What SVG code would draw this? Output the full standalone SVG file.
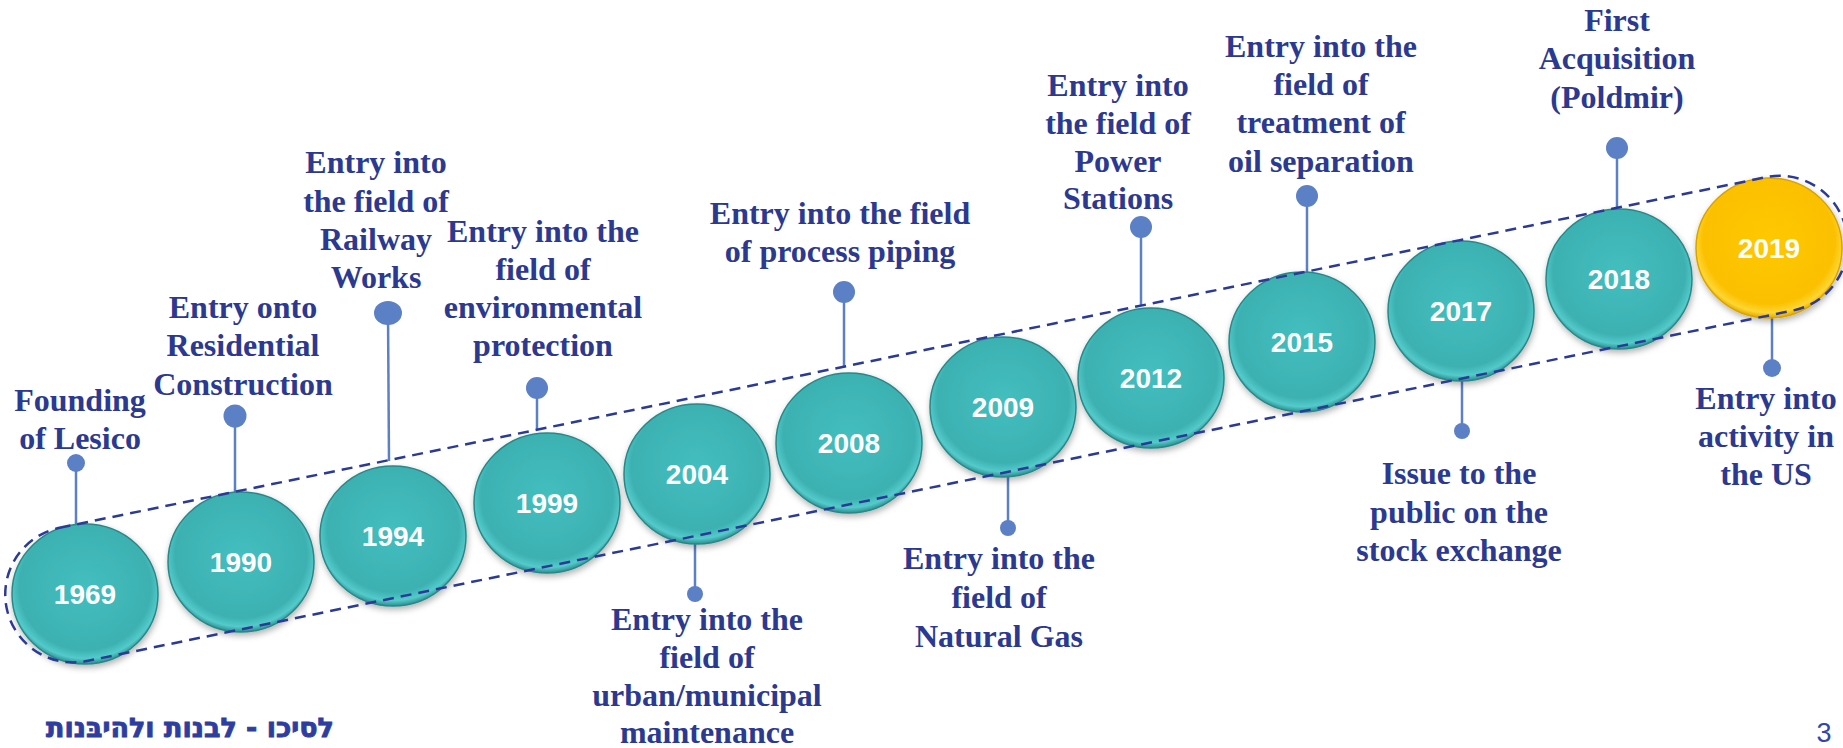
<svg xmlns="http://www.w3.org/2000/svg" width="1843" height="748" viewBox="0 0 1843 748">
<style>
.lbl{font-family:"Liberation Serif","Times New Roman",serif;font-weight:bold;font-size:32px;fill:#2B3990;text-anchor:middle}
.yr{font-family:"Liberation Sans",Arial,sans-serif;font-weight:bold;font-size:28px;fill:#ffffff;text-anchor:middle}
.stem{stroke:#5B80C6;stroke-width:2.5;fill:none}
.dot{fill:#5B80C6}
.teal{fill:url(#gTeal);stroke:#2A8788;stroke-width:1.5;filter:url(#sh)}
.gold{fill:url(#gGold);stroke:#D9A300;stroke-width:1.5;filter:url(#sh)}
.cap{fill:none;stroke:#2B3A96;stroke-width:2.5;stroke-dasharray:11 7}
</style>
<defs>
<radialGradient id="gTeal" cx="50%" cy="45%" r="55%">
<stop offset="0" stop-color="#44BEBF"/>
<stop offset="0.82" stop-color="#3CB1B2"/>
<stop offset="0.93" stop-color="#54CACB"/>
<stop offset="1" stop-color="#2C8F90"/>
</radialGradient>
<radialGradient id="gGold" cx="50%" cy="45%" r="55%">
<stop offset="0" stop-color="#FFC800"/>
<stop offset="0.82" stop-color="#FBC000"/>
<stop offset="0.93" stop-color="#FFD633"/>
<stop offset="1" stop-color="#E0A800"/>
</radialGradient>
<filter id="sh" x="-20%" y="-20%" width="140%" height="140%">
<feDropShadow dx="1" dy="3" stdDeviation="3" flood-color="#000" flood-opacity="0.3"/>
</filter>
</defs>
<rect width="1843" height="748" fill="#ffffff"/>

<g id="connectors">
<line class="stem" x1="76" y1="463" x2="76" y2="525"/>
<line class="stem" x1="235" y1="416" x2="235" y2="492"/>
<line class="stem" x1="388" y1="313" x2="389" y2="461"/>
<line class="stem" x1="537" y1="388" x2="537" y2="430"/>
<line class="stem" x1="844" y1="292" x2="844" y2="367"/>
<line class="stem" x1="1141" y1="227" x2="1141" y2="306"/>
<line class="stem" x1="1307" y1="196" x2="1307" y2="272"/>
<line class="stem" x1="1617" y1="148" x2="1617" y2="208"/>
<line class="stem" x1="695" y1="536" x2="695" y2="594"/>
<line class="stem" x1="1008" y1="471" x2="1008" y2="528"/>
<line class="stem" x1="1462" y1="378" x2="1462" y2="431"/>
<line class="stem" x1="1772" y1="314" x2="1772" y2="368"/>
<circle class="dot" cx="76" cy="463" r="9"/>
<circle class="dot" cx="235" cy="416" r="11.5"/>
<ellipse class="dot" cx="388" cy="313" rx="14" ry="12"/>
<circle class="dot" cx="537" cy="388" r="11"/>
<circle class="dot" cx="844" cy="292" r="11"/>
<circle class="dot" cx="1141" cy="227" r="11"/>
<circle class="dot" cx="1307" cy="196" r="11"/>
<circle class="dot" cx="1617" cy="148" r="11"/>
<circle class="dot" cx="695" cy="594" r="8"/>
<circle class="dot" cx="1008" cy="528" r="8"/>
<circle class="dot" cx="1462" cy="431" r="8"/>
<circle class="dot" cx="1772" cy="368" r="9"/>
</g>

<g id="n1969"><ellipse class="teal" cx="85" cy="594" rx="73" ry="70"/><text class="yr" x="85" y="604">1969</text>
<text class="lbl" x="80"><tspan x="80" y="411">Founding</tspan><tspan x="80" y="449">of Lesico</tspan></text></g>
<g id="n1990"><ellipse class="teal" cx="241" cy="562" rx="73" ry="70"/><text class="yr" x="241" y="572">1990</text>
<text class="lbl"><tspan x="243" y="318">Entry onto</tspan><tspan x="243" y="356">Residential</tspan><tspan x="243" y="395">Construction</tspan></text></g>
<g id="n1994"><ellipse class="teal" cx="393" cy="536" rx="73" ry="70"/><text class="yr" x="393" y="546">1994</text>
<text class="lbl"><tspan x="376" y="173">Entry into</tspan><tspan x="376" y="212">the field of</tspan><tspan x="376" y="250">Railway</tspan><tspan x="376" y="288">Works</tspan></text></g>
<g id="n1999"><ellipse class="teal" cx="547" cy="503" rx="73" ry="70"/><text class="yr" x="547" y="513">1999</text>
<text class="lbl"><tspan x="543" y="242">Entry into the</tspan><tspan x="543" y="280">field of</tspan><tspan x="543" y="318">environmental</tspan><tspan x="543" y="356">protection</tspan></text></g>
<g id="n2004"><ellipse class="teal" cx="697" cy="474" rx="73" ry="70"/><text class="yr" x="697" y="484">2004</text>
<text class="lbl"><tspan x="707" y="630">Entry into the</tspan><tspan x="707" y="668">field of</tspan><tspan x="707" y="706">urban/municipal</tspan><tspan x="707" y="743">maintenance</tspan></text></g>
<g id="n2008"><ellipse class="teal" cx="849" cy="443" rx="73" ry="70"/><text class="yr" x="849" y="453">2008</text>
<text class="lbl"><tspan x="840" y="224">Entry into the field</tspan><tspan x="840" y="262">of process piping</tspan></text></g>
<g id="n2009"><ellipse class="teal" cx="1003" cy="407" rx="73" ry="70"/><text class="yr" x="1003" y="417">2009</text>
<text class="lbl"><tspan x="999" y="569">Entry into the</tspan><tspan x="999" y="608">field of</tspan><tspan x="999" y="647">Natural Gas</tspan></text></g>
<g id="n2012"><ellipse class="teal" cx="1151" cy="378" rx="73" ry="70"/><text class="yr" x="1151" y="388">2012</text>
<text class="lbl"><tspan x="1118" y="96">Entry into</tspan><tspan x="1118" y="134">the field of</tspan><tspan x="1118" y="172">Power</tspan><tspan x="1118" y="209">Stations</tspan></text></g>
<g id="n2015"><ellipse class="teal" cx="1302" cy="342" rx="73" ry="70"/><text class="yr" x="1302" y="352">2015</text>
<text class="lbl"><tspan x="1321" y="57">Entry into the</tspan><tspan x="1321" y="95">field of</tspan><tspan x="1321" y="133">treatment of</tspan><tspan x="1321" y="172">oil separation</tspan></text></g>
<g id="n2017"><ellipse class="teal" cx="1461" cy="311" rx="73" ry="70"/><text class="yr" x="1461" y="321">2017</text>
<text class="lbl"><tspan x="1459" y="484">Issue to the</tspan><tspan x="1459" y="523">public on the</tspan><tspan x="1459" y="561">stock exchange</tspan></text></g>
<g id="n2018"><ellipse class="teal" cx="1619" cy="279" rx="73" ry="70"/><text class="yr" x="1619" y="289">2018</text>
<text class="lbl"><tspan x="1617" y="31">First</tspan><tspan x="1617" y="69">Acquisition</tspan><tspan x="1617" y="108">(Poldmir)</tspan></text></g>
<g id="n2019"><ellipse class="gold" cx="1769" cy="248" rx="73" ry="70"/><text class="yr" x="1769" y="258">2019</text>
<text class="lbl"><tspan x="1766" y="409">Entry into</tspan><tspan x="1766" y="447">activity in</tspan><tspan x="1766" y="485">the US</tspan></text></g>

<g id="capsule">
<rect class="cap" transform="translate(85,592) rotate(-11.61)" x="-80" y="-68" width="1878" height="136" rx="68" ry="68"/>
</g>

<g id="footer">
<text x="190" y="737" font-family="'DejaVu Sans','Noto Sans',sans-serif" font-weight="bold" font-size="27" fill="#2E3DA0" stroke="#2E3DA0" stroke-width="0.9" text-anchor="middle">לסיכו - לבנות ולהיבּנות</text>
<text x="1824" y="742" font-family="'Liberation Sans',Arial,sans-serif" font-size="27" fill="#3546A6" text-anchor="middle">3</text>
</g>
</svg>
